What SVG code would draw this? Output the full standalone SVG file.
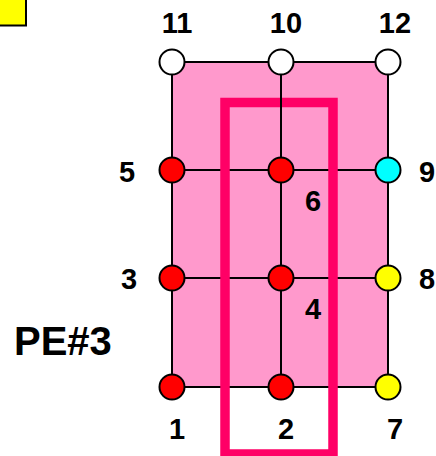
<svg xmlns="http://www.w3.org/2000/svg" width="436" height="456" viewBox="0 0 436 456">
<style>
.lbl{font-family:"Liberation Sans",Arial,sans-serif;font-weight:bold;font-size:29px;fill:#000}
.mid{text-anchor:middle}
.ln{stroke:#000;stroke-width:2;fill:none}
.nd{stroke:#000;stroke-width:2}
</style>
<rect x="-10" y="-10" width="36" height="35.5" fill="#FFFF00" stroke="#000" stroke-width="2"/>
<rect x="172" y="62" width="216" height="325" fill="#FF99CC"/>
<g id="connectors">
<path class="ln" d="M172 62H388M172 170H388M172 278H388M172 387H388"/>
<rect x="225" y="102.5" width="108" height="351.5" fill="none" stroke="#FF0066" stroke-width="9.5"/>
<path class="ln" d="M172 62V387M281 62V387M388 62V387"/>
</g>
<g id="n11"><circle class="nd" cx="172" cy="62" r="12.5" fill="#FFFFFF"/><text class="lbl mid" x="177" y="33">11</text></g>
<g id="n10"><circle class="nd" cx="281" cy="62" r="12.5" fill="#FFFFFF"/><text class="lbl mid" x="286" y="33">10</text></g>
<g id="n12"><circle class="nd" cx="388" cy="62" r="12.5" fill="#FFFFFF"/><text class="lbl mid" x="395" y="33">12</text></g>
<g id="n5"><circle class="nd" cx="172" cy="170" r="12.5" fill="#FF0000"/><text class="lbl mid" x="127" y="182">5</text></g>
<g id="n6"><circle class="nd" cx="281" cy="170" r="12.5" fill="#FF0000"/><text class="lbl mid" x="313" y="211">6</text></g>
<g id="n9"><circle class="nd" cx="388" cy="170" r="12.5" fill="#00FFFF"/><text class="lbl" x="419" y="182">9</text></g>
<g id="n3"><circle class="nd" cx="172" cy="278" r="12.5" fill="#FF0000"/><text class="lbl mid" x="129" y="289">3</text></g>
<g id="n4"><circle class="nd" cx="281" cy="278" r="12.5" fill="#FF0000"/><text class="lbl mid" x="313" y="319">4</text></g>
<g id="n8"><circle class="nd" cx="388" cy="278" r="12.5" fill="#FFFF00"/><text class="lbl" x="419" y="289">8</text></g>
<g id="n1"><circle class="nd" cx="172" cy="387" r="12.5" fill="#FF0000"/><text class="lbl mid" x="177" y="439">1</text></g>
<g id="n2"><circle class="nd" cx="281" cy="387" r="12.5" fill="#FF0000"/><text class="lbl mid" x="286" y="439">2</text></g>
<g id="n7"><circle class="nd" cx="388" cy="387" r="12.5" fill="#FFFF00"/><text class="lbl mid" x="395" y="439">7</text></g>
<text class="lbl" x="14" y="355" style="font-size:40px">PE#3</text>
</svg>
